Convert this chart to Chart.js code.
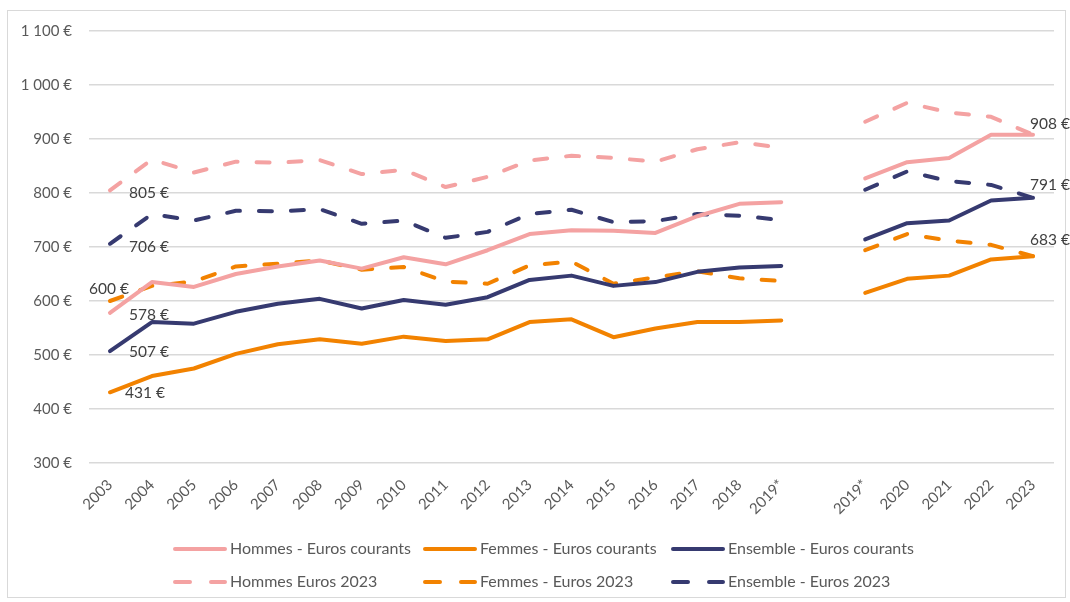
<!DOCTYPE html>
<html lang="fr">
<head>
<meta charset="utf-8">
<title>Euros courants / Euros 2023</title>
<script src="https://cdn.jsdelivr.net/npm/chart.js@4.4.1/dist/chart.umd.min.js"></script>
<style>
    html, body { margin: 0; padding: 0; background: #fff; }
    #wrap { width: 1070px; height: 602px; position: relative; }
</style>
</head>
<body>
<div id="wrap"><canvas id="salaryChart" width="1070" height="602"></canvas></div>
<script>
// Categories (blank one separates the two series breaks)
const years = ['2003', '2004', '2005', '2006', '2007', '2008', '2009', '2010', '2011', '2012',
    '2013', '2014', '2015', '2016', '2017', '2018', '2019*', '', '2019*', '2020', '2021', '2022', '2023'];

// Series values
const hommesCourants   = [578, 635, 626, 650, 664, 675, 660, 681, 668, 694, 724, 731, 730, 726, 757, 780, 783, null, 827, 857, 865, 908, 908];
const femmesCourants   = [431, 461, 475, 502, 520, 529, 521, 534, 526, 529, 561, 566, 533, 549, 561, 561, 564, null, 615, 641, 647, 677, 683];
const ensembleCourants = [507, 561, 558, 580, 595, 604, 586, 602, 593, 607, 639, 647, 628, 635, 654, 662, 665, null, 714, 744, 749, 786, 791];
const hommes2023       = [805, 862, 838, 858, 856, 861, 835, 843, 811, 830, 860, 869, 865, 858, 881, 894, 884, null, 932, 967, 949, 941, 908];
const femmes2023       = [600, 628, 636, 664, 669, 675, 658, 663, 636, 632, 666, 673, 632, 644, 655, 642, 637, null, 694, 724, 712, 704, 683];
const ensemble2023     = [706, 761, 749, 767, 766, 770, 743, 749, 717, 728, 761, 769, 746, 748, 761, 758, 750, null, 806, 840, 822, 815, 791];

// Y axis ticks
const yTicks = [300, 400, 500, 600, 700, 800, 900, 1000, 1100];

const seriesLabels = [
    'Hommes - Euros courants', 'Femmes - Euros courants', 'Ensemble - Euros courants',
    'Hommes Euros 2023', 'Femmes - Euros 2023', 'Ensemble - Euros 2023'
];

const PINK = '#F4A2A2';
const ORANGE = '#F28200';
const NAVY = '#363A70';
const DASH = [13, 19];
const FONT = 'Lato, "Open Sans", sans-serif';

function lineSet(label, data, color, dashed) {
    return {
        label: label,
        data: data,
        borderColor: color,
        backgroundColor: color,
        borderWidth: 4,
        borderDash: dashed ? DASH : [],
        borderCapStyle: 'round',
        borderJoinStyle: 'round',
        pointRadius: 0,
        pointHoverRadius: 0,
        spanGaps: false,
        tension: 0,
        fill: false
    };
}

function euro(v) {
    return String(v).replace(/\B(?=(\d{3})+(?!\d))/g, ' ') + ' €';
}

// Data labels: [dataset, point index, dx, dy, align]
const labelSpots = [
    [3, 0, 19, 3, 'left'],
    [5, 0, 19, 3, 'left'],
    [4, 0, -21, -12, 'left'],
    [0, 0, 19, 2, 'left'],
    [2, 0, 19, 1, 'left'],
    [1, 0, 15, 1, 'left'],
    [0, 22, -3, -11, 'left'],
    [2, 22, -3, -13, 'left'],
    [1, 22, -3, -16, 'left']
];

// Legend layout: two rows, three columns
const legendCols = [173, 423, 671];
const legendRows = [549, 582];

const framePlugin = {
    id: 'frame',
    beforeDraw(chart) {
        const ctx = chart.ctx;
        ctx.save();
        ctx.fillStyle = '#fff';
        ctx.fillRect(0, 0, chart.width, chart.height);
        ctx.strokeStyle = '#D9D9D9';
        ctx.lineWidth = 1;
        ctx.strokeRect(7.5, 10.5, 1058, 587);
        ctx.restore();
    }
};

const labelsPlugin = {
    id: 'endLabels',
    afterDatasetsDraw(chart) {
        const ctx = chart.ctx;
        ctx.save();
        ctx.font = '15.5px ' + FONT;
        ctx.fillStyle = '#404040';
        ctx.textBaseline = 'middle';
        labelSpots.forEach(function(s) {
            const pt = chart.getDatasetMeta(s[0]).data[s[1]];
            const value = chart.data.datasets[s[0]].data[s[1]];
            ctx.textAlign = s[4];
            ctx.fillText(euro(value), pt.x + s[2], pt.y + s[3]);
        });
        ctx.restore();
    }
};

const legendPlugin = {
    id: 'gridLegend',
    afterDraw(chart) {
        const ctx = chart.ctx;
        ctx.save();
        ctx.font = '16px ' + FONT;
        ctx.textBaseline = 'middle';
        ctx.textAlign = 'left';
        chart.data.datasets.forEach(function(ds, i) {
            const x = legendCols[i % 3];
            const y = legendRows[Math.floor(i / 3)];
            ctx.strokeStyle = ds.borderColor;
            ctx.lineWidth = 4;
            ctx.lineCap = 'round';
            if (ds.borderDash.length) {
                ctx.beginPath();
                ctx.moveTo(x + 2, y); ctx.lineTo(x + 17, y);
                ctx.moveTo(x + 38, y); ctx.lineTo(x + 52, y);
                ctx.stroke();
            } else {
                ctx.beginPath();
                ctx.moveTo(x + 2, y); ctx.lineTo(x + 52, y);
                ctx.stroke();
            }
            ctx.fillStyle = '#595959';
            ctx.fillText(ds.label, x + 57, y);
        });
        ctx.restore();
    }
};

const chartConfig = {
    type: 'line',
    data: {
        labels: years,
        datasets: [
            lineSet(seriesLabels[0], hommesCourants, PINK, false),
            lineSet(seriesLabels[1], femmesCourants, ORANGE, false),
            lineSet(seriesLabels[2], ensembleCourants, NAVY, false),
            lineSet(seriesLabels[3], hommes2023, PINK, true),
            lineSet(seriesLabels[4], femmes2023, ORANGE, true),
            lineSet(seriesLabels[5], ensemble2023, NAVY, true)
        ]
    },
    options: {
        responsive: false,
        animation: false,
        layout: {
            padding: { left: 0, right: 16, top: 31, bottom: 79 }
        },
        plugins: {
            legend: { display: false },
            tooltip: { enabled: false }
        },
        scales: {
            x: {
                offset: true,
                grid: { display: false, drawTicks: false },
                border: { display: false },
                afterFit: function(scale) { scale.height = 60; },
                ticks: {
                    autoSkip: false,
                    maxRotation: 45,
                    minRotation: 45,
                    padding: 13,
                    color: '#595959',
                    font: { family: FONT, size: 15 }
                }
            },
            y: {
                min: yTicks[0],
                max: yTicks[yTicks.length - 1],
                afterFit: function(scale) { scale.width = 89; },
                afterBuildTicks: function(scale) {
                    scale.ticks = yTicks.map(function(v) { return { value: v }; });
                },
                grid: { color: '#D9D9D9', lineWidth: 1.5, drawTicks: false },
                border: { display: false },
                ticks: {
                    padding: 17,
                    color: '#595959',
                    font: { family: FONT, size: 15 },
                    callback: function(value) { return euro(value); }
                }
            }
        }
    },
    plugins: [framePlugin, labelsPlugin, legendPlugin]
};

let salaryChart;
document.addEventListener('DOMContentLoaded', function() {
    const ctx = document.getElementById('salaryChart').getContext('2d');
    salaryChart = new Chart(ctx, chartConfig);
});
</script>
</body>
</html>
